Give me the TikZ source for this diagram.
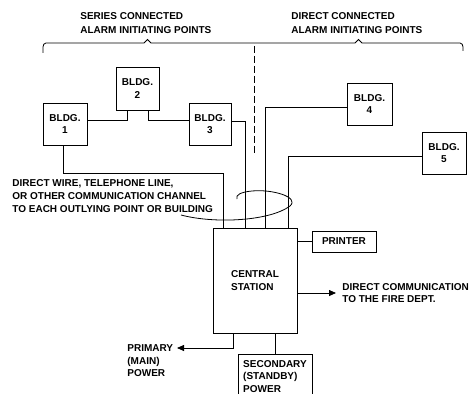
\documentclass[tikz,border=0pt]{standalone}
\usepackage{fontspec}
\setmainfont{Liberation Sans}
\usetikzlibrary{arrows.meta}
\begin{document}
\begin{tikzpicture}[
            x=1pt, y=-1pt,
            line width=0.8pt,
            every node/.style={
                font=\bfseries\fontsize{10}{12.5}\selectfont
            },
            bldg/.style={
                draw,
                align=center,
                minimum width=44pt,
                minimum height=42pt,
                inner sep=0pt
            },
            txt/.style={
                align=left,
                inner sep=0pt
            },
            arr/.style={-{Triangle[length=7pt,width=6pt]}}
        ]
            \useasboundingbox (0,0) rectangle (470,393);
            \clip (0,0) rectangle (470,393);

            % headings and braces
            \node[txt, anchor=north west, font=\bfseries\fontsize{10}{13.5}\selectfont] (ser) at (80,12.5) {SERIES CONNECTED\\ALARM INITIATING POINTS};
            \node[txt, anchor=north west, font=\bfseries\fontsize{10}{13.5}\selectfont] (dir) at (291,12.5) {DIRECT CONNECTED\\ALARM INITIATING POINTS};
            \draw (43,53) -- (43,47) to[out=90,in=180] (46,43) -- (144,43) -- (147.5,39.5) -- (151,43)
                -- (355,43) -- (358.5,39.5) -- (362,43) -- (460,43) to[out=0,in=90] (463,47) -- (463,51);
            \draw[dash pattern=on 7pt off 3pt] (254,46) -- (254,155);

            % buildings
            \node[bldg] (b1) at (65,124) {BLDG.\\1};
            \node[bldg, minimum width=43pt, minimum height=43pt] (b2) at (137.5,88.5) {BLDG.\\2};
            \node[bldg, minimum width=42pt] (b3) at (210,124) {BLDG.\\3};
            \node[bldg, minimum width=45pt] (b4) at (369.5,104) {BLDG.\\4};
            \node[bldg] (b5) at (444,153) {BLDG.\\5};

            \node[bldg, align=left, minimum width=84pt, minimum height=105pt] (cs) at (255,280.5) {CENTRAL\\STATION};
            \node[bldg, minimum width=64pt, minimum height=21pt] (pr) at (344,241.5) {PRINTER};
            \node[bldg, anchor=north, align=left, minimum width=74pt, minimum height=44pt] (sp) at (275,354) {SECONDARY\\(STANDBY)\\POWER};

            \node[txt, anchor=north west, font=\bfseries\fontsize{10}{13}\selectfont] (wire) at (12,179.5) {DIRECT WIRE, TELEPHONE LINE,\\OR OTHER COMMUNICATION CHANNEL\\TO EACH OUTLYING POINT OR BUILDING};
            \node[txt, anchor=west] (fd) at (342,293) {DIRECT COMMUNICATION\\TO THE FIRE DEPT.};
            \node[txt, anchor=west] (pw) at (127,361) {PRIMARY\\(MAIN)\\POWER};
            \coordinate (pj) at (177,348);

            % series loop
            \draw ([yshift=4pt]b1.east) -| ([xshift=-10.5pt]b2.south);
            \draw ([xshift=10.5pt]b2.south) |- ([yshift=4pt]b3.west);
            \draw ([xshift=-2pt]b1.south) -- ++(0,28) -| ([xshift=-32pt]cs.north);
            \draw ([yshift=3pt]b3.east) -| ([xshift=-10pt]cs.north);

            % direct lines
            \draw ([yshift=-3pt]b4.west) -| ([xshift=10pt]cs.north);
            \draw ([yshift=-3pt]b5.west) -| ([xshift=33pt]cs.north);

            \draw (181,215) .. controls (215,224) and (270,221) .. (290,206)
                .. controls (300,197) and (272,189) .. (252,191)
                .. controls (241,192) and (235,195) .. (237,199);

            \draw (pr.west) -- (pr.west -| cs.east);
            \draw[arr, shorten >=6pt] ([yshift=-12.5pt]cs.east) -- ([yshift=-12.5pt]cs.east -| fd.west);
            \draw[arr] ([xshift=-22pt]cs.south) |- (pj);
            \draw (sp.north |- cs.south) -- (sp.north);
        \end{tikzpicture}
\end{document}
